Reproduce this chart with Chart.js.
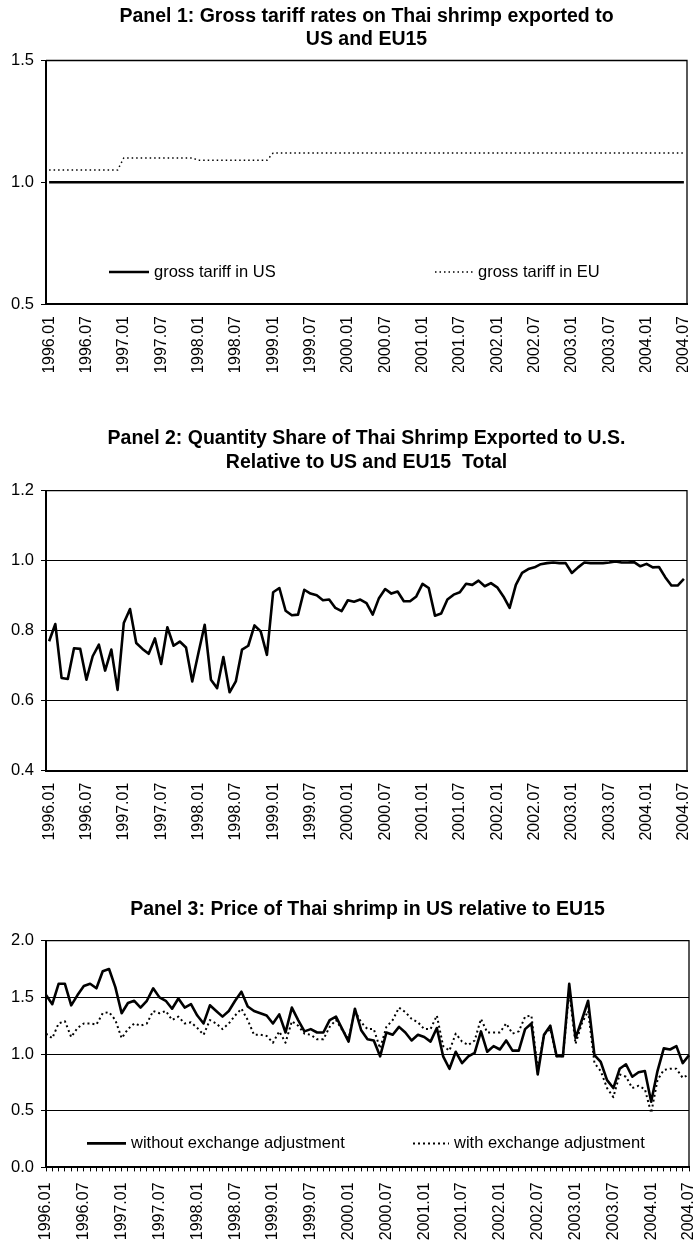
<!DOCTYPE html>
<html>
<head>
<meta charset="utf-8">
<script src="https://cdn.jsdelivr.net/npm/chart.js@4.4.1/dist/chart.umd.min.js"></script>
<style>
  body { margin: 0; background: #fff; width: 697px; height: 1242px; overflow: hidden; position: relative; }
  canvas { position: absolute; left: 0; }
</style>
</head>
<body>
<canvas id="panel1" width="697" height="372" style="top:0px"></canvas>
<canvas id="panel2" width="697" height="425" style="top:420px"></canvas>
<canvas id="panel3" width="697" height="355" style="top:887px"></canvas>
<script>
// monthly categories 1996.01 .. 2004.07
const years = [1996, 1997, 1998, 1999, 2000, 2001, 2002, 2003, 2004];
const months = [];
years.forEach((yr) => {
  for (let m = 1; m <= 12; m++) {
    if (yr === 2004 && m > 7) break;
    months.push(yr + "." + String(m).padStart(2, "0"));
  }
});

// Panel 1: gross tariffs
const usTariff = [
  1.00, 1.00, 1.00, 1.00, 1.00, 1.00, 1.00, 1.00, 1.00, 1.00, 1.00, 1.00,
  1.00, 1.00, 1.00, 1.00, 1.00, 1.00, 1.00, 1.00, 1.00, 1.00, 1.00, 1.00,
  1.00, 1.00, 1.00, 1.00, 1.00, 1.00, 1.00, 1.00, 1.00, 1.00, 1.00, 1.00,
  1.00, 1.00, 1.00, 1.00, 1.00, 1.00, 1.00, 1.00, 1.00, 1.00, 1.00, 1.00,
  1.00, 1.00, 1.00, 1.00, 1.00, 1.00, 1.00, 1.00, 1.00, 1.00, 1.00, 1.00,
  1.00, 1.00, 1.00, 1.00, 1.00, 1.00, 1.00, 1.00, 1.00, 1.00, 1.00, 1.00,
  1.00, 1.00, 1.00, 1.00, 1.00, 1.00, 1.00, 1.00, 1.00, 1.00, 1.00, 1.00,
  1.00, 1.00, 1.00, 1.00, 1.00, 1.00, 1.00, 1.00, 1.00, 1.00, 1.00, 1.00,
  1.00, 1.00, 1.00, 1.00, 1.00, 1.00, 1.00,
];
const euTariff = [
  1.05, 1.05, 1.05, 1.05, 1.05, 1.05, 1.05, 1.05, 1.05, 1.05, 1.05, 1.05,
  1.10, 1.10, 1.10, 1.10, 1.10, 1.10, 1.10, 1.10, 1.10, 1.10, 1.10, 1.10,
  1.09, 1.09, 1.09, 1.09, 1.09, 1.09, 1.09, 1.09, 1.09, 1.09, 1.09, 1.09,
  1.12, 1.12, 1.12, 1.12, 1.12, 1.12, 1.12, 1.12, 1.12, 1.12, 1.12, 1.12,
  1.12, 1.12, 1.12, 1.12, 1.12, 1.12, 1.12, 1.12, 1.12, 1.12, 1.12, 1.12,
  1.12, 1.12, 1.12, 1.12, 1.12, 1.12, 1.12, 1.12, 1.12, 1.12, 1.12, 1.12,
  1.12, 1.12, 1.12, 1.12, 1.12, 1.12, 1.12, 1.12, 1.12, 1.12, 1.12, 1.12,
  1.12, 1.12, 1.12, 1.12, 1.12, 1.12, 1.12, 1.12, 1.12, 1.12, 1.12, 1.12,
  1.12, 1.12, 1.12, 1.12, 1.12, 1.12, 1.12,
];

// Panel 2: quantity share to US
const usShare = [
  0.770, 0.819, 0.665, 0.662, 0.750, 0.748, 0.660, 0.727, 0.760, 0.686, 0.746, 0.631,
  0.822, 0.862, 0.765, 0.748, 0.734, 0.778, 0.705, 0.810, 0.757, 0.769, 0.752, 0.655,
  0.737, 0.817, 0.660, 0.636, 0.725, 0.624, 0.655, 0.746, 0.757, 0.815, 0.798, 0.731,
  0.910, 0.922, 0.857, 0.844, 0.846, 0.917, 0.906, 0.901, 0.887, 0.889, 0.865, 0.856,
  0.887, 0.883, 0.889, 0.879, 0.846, 0.893, 0.919, 0.906, 0.912, 0.884, 0.884, 0.898,
  0.934, 0.922, 0.843, 0.849, 0.889, 0.903, 0.910, 0.934, 0.931, 0.943, 0.927, 0.936,
  0.924, 0.898, 0.865, 0.931, 0.965, 0.976, 0.981, 0.990, 0.993, 0.995, 0.993, 0.993,
  0.965, 0.981, 0.995, 0.993, 0.993, 0.993, 0.995, 0.998, 0.995, 0.995, 0.996, 0.984,
  0.991, 0.981, 0.982, 0.953, 0.929, 0.929, 0.948,
];

// Panel 3: relative price US / EU15
const priceNoAdj = [
  1.52, 1.44, 1.62, 1.62, 1.43, 1.52, 1.60, 1.62, 1.58, 1.73, 1.75, 1.59,
  1.36, 1.45, 1.47, 1.41, 1.47, 1.58, 1.50, 1.47, 1.40, 1.49, 1.41, 1.44,
  1.34, 1.27, 1.43, 1.38, 1.33, 1.38, 1.47, 1.55, 1.42, 1.38, 1.36, 1.34,
  1.27, 1.35, 1.19, 1.41, 1.30, 1.20, 1.22, 1.19, 1.19, 1.30, 1.33, 1.22,
  1.11, 1.40, 1.21, 1.13, 1.12, 0.98, 1.19, 1.17, 1.24, 1.19, 1.12, 1.17,
  1.15, 1.11, 1.23, 0.98, 0.87, 1.02, 0.92, 0.98, 1.01, 1.20, 1.02, 1.07,
  1.04, 1.12, 1.03, 1.03, 1.22, 1.27, 0.82, 1.17, 1.25, 0.98, 0.98, 1.62,
  1.14, 1.30, 1.47, 0.99, 0.93, 0.77, 0.70, 0.87, 0.91, 0.80, 0.84, 0.85,
  0.58, 0.85, 1.05, 1.04, 1.07, 0.92, 0.99,
];
const priceAdj = [
  1.18, 1.14, 1.27, 1.29, 1.15, 1.23, 1.27, 1.27, 1.26, 1.36, 1.37, 1.30,
  1.14, 1.22, 1.27, 1.25, 1.27, 1.38, 1.36, 1.38, 1.30, 1.33, 1.27, 1.28,
  1.23, 1.17, 1.30, 1.27, 1.22, 1.27, 1.34, 1.40, 1.30, 1.17, 1.17, 1.16,
  1.10, 1.20, 1.10, 1.29, 1.25, 1.18, 1.17, 1.13, 1.13, 1.24, 1.30, 1.21,
  1.14, 1.38, 1.28, 1.22, 1.22, 1.05, 1.24, 1.30, 1.41, 1.37, 1.31, 1.28,
  1.22, 1.22, 1.34, 1.07, 1.03, 1.18, 1.11, 1.08, 1.12, 1.31, 1.19, 1.19,
  1.19, 1.27, 1.18, 1.20, 1.33, 1.34, 0.86, 1.17, 1.22, 0.98, 0.98, 1.55,
  1.09, 1.27, 1.38, 0.92, 0.85, 0.70, 0.62, 0.82, 0.80, 0.70, 0.72, 0.69,
  0.48, 0.77, 0.86, 0.87, 0.87, 0.79, 0.82,
];

Chart.defaults.font.family = "'Liberation Sans', Arial, sans-serif";
Chart.defaults.color = "#000";

// top and right edges of the plot box
const framePlugin = {
  id: "frame",
  afterDatasetsDraw(chart) {
    const { ctx, chartArea: a } = chart;
    ctx.save();
    ctx.strokeStyle = "#000";
    ctx.lineWidth = 1.3;
    ctx.beginPath();
    ctx.moveTo(a.left, a.top);
    ctx.lineTo(a.right, a.top);
    ctx.lineTo(a.right, a.bottom);
    ctx.stroke();
    ctx.restore();
  },
};

// legend drawn inside the plot, near the bottom
const insideLegend = {
  id: "insideLegend",
  afterDraw(chart, args, opts) {
    if (!opts.items) return;
    const { ctx, chartArea } = chart;
    const y = chartArea.bottom - opts.bottomOffset;
    ctx.save();
    ctx.font = opts.font;
    ctx.fillStyle = "#000";
    ctx.textBaseline = "middle";
    opts.items.forEach((item, i) => {
      const ds = chart.data.datasets[i];
      ctx.beginPath();
      ctx.lineWidth = ds.borderWidth;
      ctx.setLineDash(ds.borderDash || []);
      ctx.strokeStyle = ds.borderColor;
      ctx.moveTo(item.x, y);
      ctx.lineTo(item.x + item.w, y);
      ctx.stroke();
      ctx.fillText(ds.label, item.x + item.w + 5, y);
    });
    ctx.restore();
  },
};

Chart.register(framePlugin, insideLegend);

function makeOptions(cfg) {
  return {
    responsive: false,
    animation: false,
    devicePixelRatio: 1,
    layout: { autoPadding: false, padding: { left: 0, right: cfg.rightPad, top: 0, bottom: 0 } },
    elements: {
      point: { radius: 0 },
      line: { tension: 0, borderJoinStyle: "round", borderCapStyle: "butt" },
    },
    plugins: {
      legend: { display: false },
      tooltip: { enabled: false },
      title: {
        display: true,
        fullSize: false,
        text: cfg.title,
        color: "#000",
        font: { size: 19.5, weight: "bold", lineHeight: 1.195 },
        padding: { top: cfg.titleTop, bottom: cfg.titleBottom },
      },
      insideLegend: cfg.legend || {},
    },
    scales: {
      x: {
        type: "category",
        offset: cfg.offset,
        afterFit: (scale) => {
          scale.height = cfg.xHeight;
          // rotated end labels must not shrink the plot
          scale.paddingLeft = 0;
          scale.paddingRight = 0;
        },
        grid: {
          display: cfg.xTickMarks,
          drawOnChartArea: false,
          drawTicks: cfg.xTickMarks,
          tickLength: 4,
          color: "#000",
          offset: false,
        },
        border: { display: true, color: "#000", width: 2 },
        ticks: {
          autoSkip: false,
          minRotation: 90,
          maxRotation: 90,
          padding: cfg.xPad,
          font: { size: 16 },
          callback: (v, i) => (i % 6 === 0 ? months[i] : ""),
        },
      },
      y: {
        min: cfg.yMin,
        max: cfg.yMax,
        afterFit: (scale) => {
          scale.width = 46;
          scale.paddingTop = 0;
          scale.paddingBottom = 0;
        },
        grid: {
          drawOnChartArea: cfg.yGrid,
          drawTicks: true,
          tickLength: 5,
          color: "#000",
          lineWidth: 1,
        },
        border: { display: true, color: "#000", width: 2 },
        ticks: {
          stepSize: cfg.yStep,
          padding: 7,
          font: { size: 16.5 },
          callback: (v) => v.toFixed(1),
        },
      },
    },
  };
}

new Chart(document.getElementById("panel1"), {
  type: "line",
  data: {
    labels: months,
    datasets: [
      { label: "gross tariff in US", data: usTariff, borderColor: "#000", borderWidth: 2.7 },
      { label: "gross tariff in EU", data: euTariff, borderColor: "#000", borderWidth: 1.5, borderDash: [1.5, 3] },
    ],
  },
  options: makeOptions({
    title: ["Panel 1: Gross tariff rates on Thai shrimp exported to", "US and EU15"],
    titleTop: 4.6, titleBottom: 9.3,
    yMin: 0.5, yMax: 1.5, yStep: 0.5, yGrid: false,
    offset: true, xTickMarks: false, xPad: 12, xHeight: 68, rightPad: 10,
    legend: {
      font: "16.5px 'Liberation Sans', Arial, sans-serif",
      bottomOffset: 32,
      items: [{ x: 109, w: 40 }, { x: 435, w: 38 }],
    },
  }),
});

new Chart(document.getElementById("panel2"), {
  type: "line",
  data: {
    labels: months,
    datasets: [
      { label: "US share", data: usShare, borderColor: "#000", borderWidth: 2.6 },
    ],
  },
  options: makeOptions({
    title: ["Panel 2: Quantity Share of Thai Shrimp Exported to U.S.", "Relative to US and EU15  Total"],
    titleTop: 7.4, titleBottom: 16.7,
    yMin: 0.4, yMax: 1.2, yStep: 0.2, yGrid: true,
    offset: true, xTickMarks: false, xPad: 12, xHeight: 74.3, rightPad: 10,
  }),
});

new Chart(document.getElementById("panel3"), {
  type: "line",
  data: {
    labels: months,
    datasets: [
      { label: "without exchange adjustment", data: priceNoAdj, borderColor: "#000", borderWidth: 2.6 },
      { label: "with exchange adjustment", data: priceAdj, borderColor: "#000", borderWidth: 2, borderDash: [2, 3] },
    ],
  },
  options: makeOptions({
    title: ["Panel 3: Price of Thai shrimp in US relative to EU15"],
    titleTop: 11.4, titleBottom: 19,
    yMin: 0, yMax: 2, yStep: 0.5, yGrid: true,
    offset: false, xTickMarks: true, xPad: 11, xHeight: 74.6, rightPad: 8,
    legend: {
      font: "16.5px 'Liberation Sans', Arial, sans-serif",
      bottomOffset: 24,
      items: [{ x: 87, w: 39 }, { x: 413, w: 36 }],
    },
  }),
});
</script>
</body>
</html>
